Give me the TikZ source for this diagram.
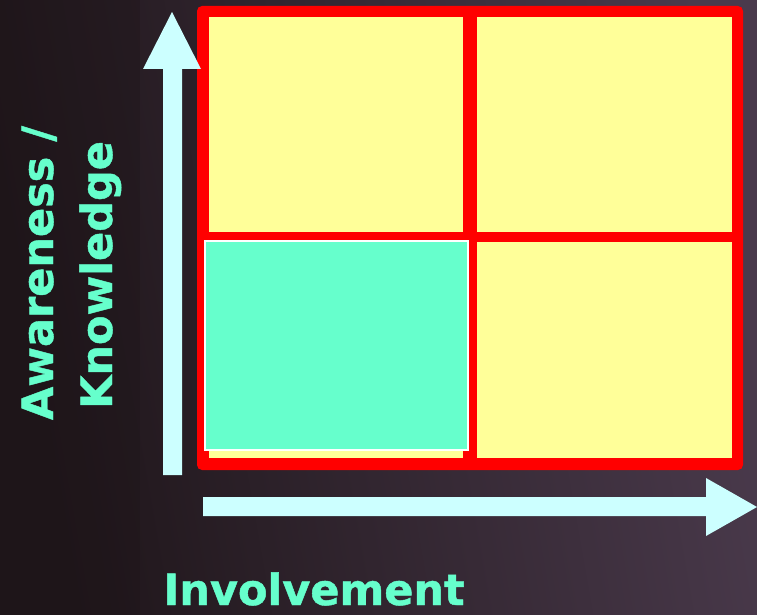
\documentclass[tikz,border=0pt]{standalone}
\usepackage{fontspec}
\setmainfont{DejaVu Sans}
\newfontfamily\lblfont{DejaVu Sans}[BoldFeatures={FakeBold=1}]
\begin{document}
\begin{tikzpicture}[x=1pt,y=-1pt,
  cell/.style={fill=cellyellow},
  arrowshape/.style={fill=arrowcyan},
  lbl/.style={text=labelteal,font=\lblfont\fontsize{43}{43}\selectfont\bfseries,inner sep=0pt}]
\definecolor{bgdark}{HTML}{1E1519}
\definecolor{bglight}{HTML}{4A3A4C}
\definecolor{cellyellow}{HTML}{FFFF99}
\definecolor{arrowcyan}{HTML}{CCFFFF}
\definecolor{labelteal}{HTML}{66FFCC}
\definecolor{gridred}{HTML}{FF0000}
\useasboundingbox (0,0) rectangle (757,615);
\shade[left color=bgdark,right color=bglight,shading angle=100] (0,0) rectangle (757,615);
\fill[bgdark,opacity=0.35] (0,0) rectangle (140,615);
% frame
\fill[gridred,rounded corners=5pt] (197,6) rectangle (743,470);
\fill[cell] (209,17) rectangle (463,232);
\fill[cell] (477,17) rectangle (732,232);
\fill[cell] (209,242) rectangle (463,458);
\fill[cell] (477,242) rectangle (732,458);
\fill[labelteal,draw=white,line width=1.2pt] (205,241) rectangle (468,450);
% vertical axis arrow
\fill[arrowshape] (163,475) -- (163,69) -- (143,69) -- (172,12) -- (201,69) -- (182,69) -- (182,475) -- cycle;
% horizontal axis arrow
\fill[arrowshape] (203,497) -- (706,497) -- (706,478) -- (757,507) -- (706,536) -- (706,516) -- (203,516) -- cycle;
% labels
\node[lbl,rotate=90,anchor=base] (aw) at (53,273) {Awareness /};
\node[lbl,rotate=90,anchor=base] (kn) at (112,275) {Knowledge};
\node[lbl,anchor=base] (inv) at (314,605) {Involvement};
\end{tikzpicture}
\end{document}
